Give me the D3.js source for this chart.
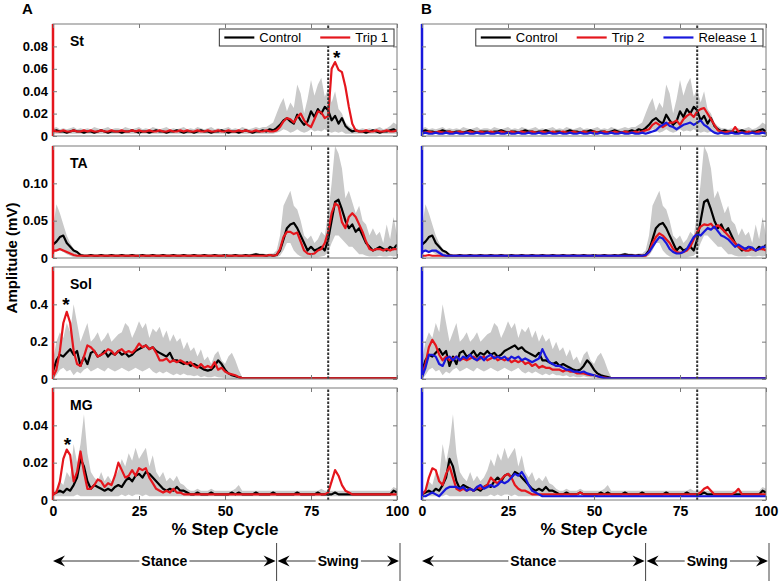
<!DOCTYPE html>
<html><head><meta charset="utf-8">
<script src="https://cdn.jsdelivr.net/npm/d3@7"></script>
<style>body{margin:0;background:#fff}svg{display:block}</style>
</head><body><svg id="c" width="779" height="581"></svg>
<script>
// ---------- DATA (percent step cycle 0..100, 1% steps) ----------
const pct = d3.range(0, 101);
const muscles = ["St", "TA", "Sol", "MG"];
const xTicks = [0, 25, 50, 75, 100];
const yTicksSt = [0, 0.02, 0.04, 0.06, 0.08];
const yTicksTA = [0, 0.05, 0.10];
const yTicksSol = [0, 0.2, 0.4];
const yTicksMG = [0, 0.02, 0.04];
const yMaxes = [0.1, 0.15, 0.6, 0.06];
const seriesNamesA = ["Control", "Trip 1"];
const seriesNamesB = ["Control", "Trip 2", "Release 1"];

// St
const stControl = [
.004,.005,.004,.004,.003,.004,.005,.004,.004,.003,
.004,.004,.003,.004,.005,.004,.003,.004,.004,.004,
.003,.004,.004,.005,.004,.003,.004,.004,.003,.004,
.005,.004,.004,.003,.004,.004,.005,.004,.003,.004,
.004,.003,.004,.005,.004,.004,.003,.004,.004,.005,
.004,.003,.004,.004,.003,.004,.005,.004,.003,.004,
.004,.005,.004,.006,.005,.007,.010,.014,.016,.013,
.011,.019,.014,.010,.013,.022,.017,.024,.020,.026,
.023,.014,.018,.011,.016,.009,.006,.004,.005,.004,
.004,.003,.004,.005,.004,.003,.004,.004,.005,.006,
.004];
const stTrip1 = [
.005,.004,.004,.005,.004,.004,.005,.004,.004,.005,
.004,.005,.004,.004,.005,.004,.004,.005,.004,.004,
.005,.004,.004,.005,.004,.005,.004,.004,.005,.004,
.004,.005,.004,.004,.005,.004,.004,.005,.004,.005,
.004,.004,.005,.004,.004,.005,.004,.004,.005,.004,
.004,.005,.004,.004,.005,.004,.005,.004,.004,.005,
.004,.004,.005,.004,.004,.005,.008,.013,.016,.015,
.012,.017,.020,.014,.010,.008,.015,.022,.021,.016,
.018,.060,.066,.059,.057,.044,.026,.011,.005,.004,
.004,.005,.004,.004,.005,.004,.004,.005,.004,.004,
.005];
const stTrip2 = [
.003,.003,.004,.003,.003,.004,.003,.003,.004,.003,
.003,.004,.003,.003,.004,.003,.003,.004,.003,.003,
.004,.003,.003,.004,.003,.003,.004,.003,.003,.004,
.003,.003,.004,.003,.003,.004,.003,.003,.004,.003,
.003,.004,.003,.003,.004,.003,.003,.004,.003,.003,
.004,.003,.003,.004,.003,.003,.004,.003,.003,.004,
.003,.003,.004,.003,.004,.005,.006,.010,.012,.010,
.008,.010,.012,.012,.014,.010,.015,.018,.020,.017,
.022,.024,.025,.020,.015,.010,.005,.004,.003,.004,
.003,.008,.004,.003,.003,.004,.003,.003,.004,.003,
.003];
const stRelease1 = [
.002,.003,.002,.002,.003,.002,.002,.003,.002,.002,
.003,.002,.002,.003,.002,.002,.003,.002,.002,.003,
.002,.002,.003,.002,.002,.003,.002,.002,.003,.002,
.002,.003,.002,.002,.003,.002,.002,.003,.002,.002,
.003,.002,.002,.003,.002,.002,.003,.002,.002,.003,
.002,.002,.003,.002,.002,.003,.002,.002,.003,.002,
.002,.003,.002,.002,.003,.002,.003,.004,.005,.008,
.010,.012,.009,.008,.006,.008,.010,.011,.012,.010,
.012,.014,.010,.008,.005,.003,.002,.003,.002,.002,
.003,.002,.002,.003,.002,.002,.003,.002,.002,.003,
.002];
const stBandHi = [
.007,.008,.006,.007,.006,.007,.008,.006,.007,.006,
.007,.006,.008,.007,.006,.007,.008,.006,.007,.007,
.006,.008,.007,.006,.007,.008,.006,.007,.006,.008,
.007,.006,.007,.008,.006,.007,.006,.007,.008,.006,
.007,.006,.008,.007,.006,.007,.008,.006,.007,.006,
.007,.008,.006,.007,.006,.008,.007,.006,.007,.008,
.007,.008,.008,.010,.012,.020,.028,.034,.022,.030,
.025,.046,.038,.020,.033,.050,.036,.046,.052,.035,
.042,.030,.040,.024,.020,.012,.009,.007,.007,.006,
.007,.006,.007,.006,.007,.008,.006,.007,.009,.012,
.010];
const stBandLo = [
.002,.002,.002,.002,.002,.002,.002,.002,.002,.002,
.002,.002,.002,.002,.002,.002,.002,.002,.002,.002,
.002,.002,.002,.002,.002,.002,.002,.002,.002,.002,
.002,.002,.002,.002,.002,.002,.002,.002,.002,.002,
.002,.002,.002,.002,.002,.002,.002,.002,.002,.002,
.002,.002,.002,.002,.002,.002,.002,.002,.002,.002,
.002,.002,.002,.002,.002,.003,.004,.006,.005,.003,
.004,.006,.004,.003,.004,.006,.004,.005,.004,.006,
.004,.003,.004,.003,.004,.002,.002,.002,.002,.002,
.002,.002,.002,.002,.002,.002,.002,.002,.002,.002,
.002];

// TA
const taControl = [
.018,.022,.028,.030,.020,.015,.010,.008,.004,.003,
.003,.004,.003,.003,.004,.003,.003,.004,.003,.003,
.004,.003,.003,.004,.003,.003,.004,.003,.003,.004,
.003,.003,.004,.003,.003,.004,.003,.003,.004,.003,
.003,.004,.003,.003,.004,.003,.003,.004,.003,.003,
.004,.003,.003,.004,.003,.003,.004,.003,.004,.005,
.004,.004,.003,.004,.003,.004,.010,.025,.040,.045,
.047,.040,.030,.020,.010,.015,.010,.012,.015,.010,
.025,.050,.075,.078,.065,.050,.040,.045,.035,.040,
.030,.020,.015,.010,.012,.015,.012,.010,.015,.012,
.018];
const taTrip1 = [
.010,.010,.012,.010,.008,.006,.004,.003,.003,.003,
.003,.003,.003,.003,.003,.003,.003,.003,.003,.003,
.003,.003,.003,.003,.003,.003,.003,.003,.003,.003,
.003,.003,.003,.003,.003,.003,.003,.003,.003,.003,
.003,.003,.003,.003,.003,.003,.003,.003,.003,.003,
.003,.003,.003,.003,.003,.003,.003,.003,.003,.003,
.003,.003,.003,.004,.003,.004,.012,.028,.035,.035,
.032,.034,.022,.010,.006,.005,.006,.010,.012,.020,
.035,.060,.073,.070,.048,.040,.055,.060,.055,.045,
.035,.022,.012,.010,.012,.012,.010,.012,.010,.012,
.012];
const taTrip2 = [
.003,.003,.004,.003,.003,.003,.003,.003,.003,.003,
.003,.003,.003,.003,.003,.003,.003,.003,.003,.003,
.003,.003,.003,.003,.003,.003,.003,.003,.003,.003,
.003,.003,.003,.003,.003,.003,.003,.003,.003,.003,
.003,.003,.003,.003,.003,.003,.003,.003,.003,.003,
.003,.003,.003,.003,.003,.003,.003,.003,.003,.003,
.003,.003,.003,.003,.003,.003,.008,.020,.028,.033,
.030,.025,.020,.012,.008,.007,.008,.010,.015,.025,
.035,.042,.045,.044,.046,.040,.044,.040,.035,.030,
.025,.020,.015,.012,.010,.010,.012,.010,.012,.012,
.010];
const taRelease1 = [
.008,.010,.008,.010,.010,.007,.004,.003,.003,.003,
.003,.003,.003,.003,.003,.003,.003,.003,.003,.003,
.003,.003,.003,.003,.003,.003,.003,.003,.003,.003,
.003,.003,.003,.003,.003,.003,.003,.003,.003,.003,
.003,.003,.003,.003,.003,.003,.003,.003,.003,.003,
.003,.003,.003,.003,.003,.003,.003,.003,.003,.003,
.003,.003,.003,.003,.003,.004,.008,.015,.022,.028,
.026,.020,.012,.008,.006,.006,.008,.012,.020,.028,
.032,.030,.035,.040,.038,.042,.036,.030,.028,.025,
.020,.015,.018,.015,.012,.015,.014,.010,.012,.015,
.015];
const taBandHi = [
.040,.072,.060,.045,.030,.020,.012,.008,.006,.005,
.005,.005,.005,.005,.005,.005,.005,.005,.005,.005,
.005,.005,.005,.005,.005,.005,.005,.005,.005,.005,
.005,.005,.005,.005,.005,.005,.005,.005,.005,.005,
.005,.005,.005,.005,.005,.005,.005,.005,.005,.005,
.005,.005,.005,.005,.005,.005,.005,.005,.006,.007,
.006,.006,.005,.006,.006,.010,.030,.070,.080,.090,
.070,.065,.050,.030,.025,.030,.020,.025,.035,.030,
.060,.100,.150,.140,.120,.080,.090,.075,.060,.070,
.050,.045,.030,.040,.030,.035,.020,.045,.025,.055,
.030];
const taBandLo = [
.005,.010,.010,.008,.005,.003,.001,.001,.001,.001,
.001,.001,.001,.001,.001,.001,.001,.001,.001,.001,
.001,.001,.001,.001,.001,.001,.001,.001,.001,.001,
.001,.001,.001,.001,.001,.001,.001,.001,.001,.001,
.001,.001,.001,.001,.001,.001,.001,.001,.001,.001,
.001,.001,.001,.001,.001,.001,.001,.001,.001,.001,
.001,.001,.001,.001,.001,.001,.003,.010,.020,.020,
.010,.005,.002,.001,.001,.001,.001,.001,.002,.003,
.008,.020,.030,.030,.025,.020,.015,.015,.010,.005,
.005,.003,.002,.002,.002,.003,.002,.002,.003,.002,
.003];

// Sol
const solControl = [
.040,.100,.130,.120,.140,.160,.130,.150,.070,.120,
.080,.140,.150,.120,.130,.150,.120,.140,.130,.150,
.130,.140,.120,.130,.150,.160,.170,.180,.160,.170,
.150,.140,.130,.120,.140,.100,.100,.090,.080,.090,
.070,.080,.070,.060,.050,.045,.050,.070,.100,.080,
.050,.030,.020,.015,.010,.005,.004,.003,.003,.003,
.003,.003,.003,.003,.003,.003,.003,.003,.003,.003,
.003,.003,.003,.003,.003,.003,.003,.003,.003,.003,
.003,.003,.003,.003,.003,.003,.003,.003,.003,.003,
.003,.003,.003,.003,.003,.003,.003,.003,.003,.003,
.003];
const solTrip1 = [
.010,.050,.150,.300,.360,.300,.150,.080,.070,.120,
.180,.170,.150,.120,.130,.140,.160,.150,.130,.150,
.160,.140,.150,.140,.160,.190,.170,.180,.160,.170,
.140,.100,.100,.110,.090,.100,.090,.100,.090,.080,
.090,.070,.060,.080,.060,.070,.060,.090,.050,.060,
.040,.030,.025,.020,.010,.005,.003,.003,.003,.003,
.003,.003,.003,.003,.003,.003,.003,.003,.003,.003,
.003,.003,.003,.003,.003,.003,.003,.003,.003,.003,
.003,.003,.003,.003,.003,.003,.003,.003,.003,.003,
.003,.003,.003,.003,.003,.003,.003,.003,.003,.003,
.003];
const solTrip2 = [
.020,.080,.170,.210,.180,.130,.100,.120,.100,.110,
.120,.100,.110,.100,.110,.120,.100,.110,.120,.100,
.110,.120,.100,.110,.100,.110,.090,.100,.090,.100,
.080,.090,.070,.080,.060,.070,.060,.060,.050,.050,
.050,.040,.050,.040,.040,.030,.030,.030,.025,.020,
.020,.015,.010,.008,.005,.003,.003,.003,.003,.003,
.003,.003,.003,.003,.003,.003,.003,.003,.003,.003,
.003,.003,.003,.003,.003,.003,.003,.003,.003,.003,
.003,.003,.003,.003,.003,.003,.003,.003,.003,.003,
.003,.003,.003,.003,.003,.003,.003,.003,.003,.003,
.003];
const solRelease1 = [
.010,.060,.130,.130,.120,.080,.070,.110,.120,.100,
.120,.100,.120,.110,.130,.110,.100,.120,.100,.120,
.130,.110,.120,.110,.120,.100,.120,.110,.120,.100,
.110,.100,.090,.100,.110,.160,.120,.090,.080,.070,
.070,.060,.050,.050,.040,.040,.035,.040,.030,.025,
.020,.015,.010,.005,.003,.003,.003,.003,.003,.003,
.003,.003,.003,.003,.003,.003,.003,.003,.003,.003,
.003,.003,.003,.003,.003,.003,.003,.003,.003,.003,
.003,.003,.003,.003,.003,.003,.003,.003,.003,.003,
.003,.003,.003,.003,.003,.003,.003,.003,.003,.003,
.003];
const solBandHi = [
.100,.200,.250,.220,.300,.250,.400,.300,.200,.250,
.300,.200,.220,.250,.200,.220,.250,.200,.220,.240,
.250,.300,.280,.220,.260,.310,.270,.300,.220,.270,
.250,.280,.220,.260,.200,.240,.200,.220,.160,.200,
.150,.170,.120,.160,.100,.120,.080,.130,.150,.100,
.080,.120,.140,.100,.050,.010,.006,.006,.006,.006,
.006,.006,.006,.006,.006,.006,.006,.006,.006,.006,
.006,.006,.006,.006,.006,.006,.006,.006,.006,.006,
.006,.006,.006,.006,.006,.006,.006,.006,.006,.006,
.006,.006,.006,.006,.006,.006,.006,.006,.006,.006,
.006];
const solBandLo = [
.000,.020,.050,.060,.040,.050,.020,.040,.030,.050,
.060,.040,.050,.060,.050,.040,.060,.050,.040,.050,
.060,.050,.040,.050,.060,.050,.040,.050,.060,.040,
.030,.040,.030,.040,.030,.020,.030,.020,.030,.020,
.020,.015,.020,.010,.015,.010,.010,.015,.010,.008,
.005,.003,.002,.001,.001,.001,.001,.001,.001,.001,
.001,.001,.001,.001,.001,.001,.001,.001,.001,.001,
.001,.001,.001,.001,.001,.001,.001,.001,.001,.001,
.001,.001,.001,.001,.001,.001,.001,.001,.001,.001,
.001,.001,.001,.001,.001,.001,.001,.001,.001,.001,
.001];

// MG
const mgControl = [
.003,.004,.005,.004,.006,.005,.008,.012,.022,.018,
.010,.006,.008,.007,.006,.005,.006,.005,.007,.008,
.007,.010,.012,.010,.013,.014,.012,.015,.014,.012,
.010,.008,.006,.005,.006,.005,.007,.005,.005,.004,
.003,.003,.004,.003,.003,.003,.004,.003,.003,.003,
.003,.003,.004,.003,.004,.003,.003,.003,.003,.004,
.003,.003,.003,.003,.004,.003,.003,.003,.003,.003,
.003,.004,.003,.003,.003,.003,.003,.004,.003,.003,
.003,.003,.004,.003,.003,.003,.003,.003,.003,.003,
.003,.003,.003,.003,.003,.003,.003,.003,.003,.005,
.004];
const mgTrip1 = [
.003,.004,.010,.022,.027,.024,.010,.015,.026,.015,
.006,.006,.008,.011,.010,.007,.009,.008,.013,.020,
.016,.012,.013,.016,.013,.017,.016,.017,.012,.009,
.006,.005,.004,.005,.004,.006,.004,.004,.003,.003,
.003,.003,.003,.003,.003,.003,.003,.003,.003,.003,
.003,.003,.003,.003,.003,.003,.003,.003,.003,.003,
.003,.003,.003,.003,.003,.003,.003,.003,.003,.003,
.003,.003,.003,.003,.003,.003,.003,.003,.003,.003,
.004,.010,.016,.013,.008,.005,.004,.003,.003,.003,
.003,.003,.003,.003,.003,.003,.003,.003,.003,.003,
.003];
const mgTrip2 = [
.003,.005,.012,.017,.016,.010,.008,.014,.018,.012,
.006,.005,.006,.005,.006,.005,.007,.006,.007,.008,
.012,.010,.009,.011,.013,.014,.012,.008,.006,.005,
.005,.004,.003,.003,.003,.003,.003,.003,.003,.003,
.003,.003,.003,.003,.003,.003,.004,.003,.003,.003,
.003,.003,.003,.003,.003,.003,.003,.003,.003,.003,
.003,.003,.003,.003,.003,.003,.003,.003,.003,.003,
.003,.003,.003,.003,.003,.003,.003,.003,.003,.003,
.003,.004,.006,.007,.005,.003,.003,.003,.003,.003,
.003,.004,.006,.003,.003,.003,.003,.003,.003,.003,
.003];
const mgRelease1 = [
.002,.002,.003,.004,.003,.002,.004,.006,.007,.007,
.007,.006,.007,.005,.006,.005,.007,.008,.006,.007,
.008,.007,.008,.010,.009,.010,.012,.014,.013,.015,
.012,.008,.005,.004,.003,.002,.002,.002,.002,.002,
.002,.002,.002,.002,.002,.002,.002,.002,.002,.002,
.002,.002,.002,.002,.002,.002,.002,.002,.002,.002,
.002,.002,.002,.002,.002,.002,.002,.002,.002,.002,
.002,.002,.002,.002,.002,.002,.002,.002,.002,.002,
.002,.002,.002,.002,.002,.002,.002,.002,.002,.002,
.002,.002,.002,.002,.002,.002,.002,.002,.002,.002,
.002];
const mgBandHi = [
.004,.006,.010,.008,.015,.012,.030,.020,.030,.046,
.025,.015,.012,.010,.015,.010,.013,.010,.012,.016,
.022,.018,.025,.021,.028,.022,.025,.028,.018,.024,
.015,.012,.015,.010,.012,.010,.013,.009,.008,.006,
.005,.005,.006,.005,.005,.005,.006,.005,.005,.005,
.005,.005,.005,.006,.008,.005,.005,.005,.005,.005,
.005,.005,.005,.005,.005,.005,.005,.005,.005,.005,
.005,.005,.005,.005,.005,.005,.005,.005,.006,.005,
.005,.005,.005,.005,.005,.005,.005,.005,.005,.005,
.005,.005,.005,.005,.005,.005,.005,.005,.005,.007,
.006];
const mgBandLo = [
.002,.002,.002,.002,.002,.002,.002,.003,.002,.002,
.002,.002,.002,.002,.002,.002,.002,.002,.002,.002,
.003,.002,.003,.002,.003,.003,.002,.003,.002,.002,
.002,.002,.002,.002,.002,.002,.002,.002,.002,.002,
.002,.002,.002,.002,.002,.002,.002,.002,.002,.002,
.002,.002,.002,.002,.002,.002,.002,.002,.002,.002,
.002,.002,.002,.002,.002,.002,.002,.002,.002,.002,
.002,.002,.002,.002,.002,.002,.002,.002,.002,.002,
.002,.002,.002,.002,.002,.002,.002,.002,.002,.002,
.002,.002,.002,.002,.002,.002,.002,.002,.002,.002,
.002];

// significance markers in panel A: [pct, value] for rows St, Sol, MG
const stars = [[82.5, 0.074], [3.8, 0.423], [4.2, 0.032]];
const starRows = [0, 2, 3];

// ---------- LAYOUT ----------
const svg = d3.select("#c");
const FONT = "'Liberation Sans', Arial, sans-serif";
const NARROW = "'Liberation Sans Narrow', 'Arial Narrow', 'Liberation Sans', sans-serif";
const RED = "#e5161d", BLUE = "#1818dc", BLACK = "#000", GRAY = "#c9c9c9";
const colRange = [[53, 397], [422, 766]];
const rowTop = [24, 146, 267, 388], rowH = 112;
const yTicksAll = [yTicksSt, yTicksTA, yTicksSol, yTicksMG];
const yFmt = [d3.format(".2f"), d3.format(".2f"), d3.format(".1f"), d3.format(".2f")];

const bandHi = [stBandHi, taBandHi, solBandHi, mgBandHi];
const bandLo = [stBandLo, taBandLo, solBandLo, mgBandLo];
const colsSeries = [
  [ {name: seriesNamesA[0], color: BLACK, data: [stControl, taControl, solControl, mgControl]},
    {name: seriesNamesA[1], color: RED, data: [stTrip1, taTrip1, solTrip1, mgTrip1]} ],
  [ {name: seriesNamesB[0], color: BLACK, data: [stControl, taControl, solControl, mgControl]},
    {name: seriesNamesB[1], color: RED, data: [stTrip2, taTrip2, solTrip2, mgTrip2]},
    {name: seriesNamesB[2], color: BLUE, data: [stRelease1, taRelease1, solRelease1, mgRelease1]} ]
];

const defs = svg.append("defs");

colRange.forEach((cr, c) => {
  const x = d3.scaleLinear().domain([0, 100]).range(cr);
  muscles.forEach((m, r) => {
    const y = d3.scaleLinear().domain([0, yMaxes[r]]).range([rowTop[r] + rowH, rowTop[r]]);
    const cid = `clip${c}${r}`;
    defs.append("clipPath").attr("id", cid).append("rect")
      .attr("x", cr[0]).attr("y", rowTop[r]).attr("width", cr[1] - cr[0]).attr("height", rowH);
    const g = svg.append("g");
    const plot = g.append("g").attr("clip-path", `url(#${cid})`);
    const area = d3.area().x((d, i) => x(pct[i])).y0((d, i) => y(bandLo[r][i])).y1(d => y(d));
    plot.append("path").datum(bandHi[r]).attr("d", area).attr("fill", GRAY);
    colsSeries[c].forEach(s => {
      const line = d3.line().x((d, i) => x(pct[i])).y(d => y(d));
      plot.append("path").datum(s.data[r]).attr("d", line)
        .attr("fill", "none").attr("stroke", s.color).attr("stroke-width", 2.2)
        .attr("stroke-linejoin", "round");
    });
    g.append("line").attr("x1", x(80)).attr("x2", x(80)).attr("y1", y(0)).attr("y2", y(yMaxes[r]))
      .attr("stroke", "#333").attr("stroke-width", 2).attr("stroke-dasharray", "2.5,1.5");
    g.append("rect").attr("x", cr[0]).attr("y", rowTop[r]).attr("width", cr[1] - cr[0]).attr("height", rowH)
      .attr("fill", "none").attr("stroke", "#7a7a7a").attr("stroke-width", 1);
    const last = colsSeries[c][colsSeries[c].length - 1];
    g.append("line").attr("x1", x(0)).attr("x2", x(0)).attr("y1", y(0)).attr("y2", y(yMaxes[r]))
      .attr("stroke", last.color).attr("stroke-width", 2.5);
    const bottom = g.append("g").attr("transform", `translate(0,${y(0)})`)
      .call(d3.axisBottom(x).tickValues(xTicks).tickSize(-4).tickSizeOuter(0).tickPadding(6)
        .tickFormat(r === 3 ? d3.format("d") : () => ""));
    const top = g.append("g").attr("transform", `translate(0,${rowTop[r]})`)
      .call(d3.axisTop(x).tickValues(xTicks).tickSize(-4).tickSizeOuter(0).tickFormat(() => ""));
    const left = g.append("g").attr("transform", `translate(${cr[0]},0)`)
      .call(d3.axisLeft(y).tickValues(yTicksAll[r]).tickSize(-4).tickSizeOuter(0).tickPadding(5)
        .tickFormat(c === 0 ? (d => d === 0 ? "0" : yFmt[r](d)) : () => ""));
    const right = g.append("g").attr("transform", `translate(${cr[1]},0)`)
      .call(d3.axisRight(y).tickValues(yTicksAll[r]).tickSize(-4).tickSizeOuter(0).tickFormat(() => ""));
    [bottom, top, left, right].forEach(a => {
      a.select(".domain").remove();
      a.selectAll(".tick line").attr("stroke", "#7a7a7a");
    });
    bottom.selectAll("text").attr("font-family", NARROW).attr("font-weight", "bold")
      .attr("font-size", 14).attr("fill", "#000");
    left.selectAll("text").attr("font-family", FONT).attr("font-weight", "bold")
      .attr("font-size", 13).attr("fill", "#000");
    if (c === 0) {
      g.append("text").attr("x", 70).attr("y", rowTop[r] + 22).text(m)
        .attr("font-family", FONT).attr("font-weight", "bold").attr("font-size", 14);
      const si = starRows.indexOf(r);
      if (si >= 0) {
        g.append("text").attr("x", x(stars[si][0])).attr("y", y(stars[si][1]) + 11)
          .attr("text-anchor", "middle").text("*")
          .attr("font-family", FONT).attr("font-weight", "bold").attr("font-size", 19);
      }
    }
    if (r === 0) {
      const items = colsSeries[c];
      const lg = g.append("g");
      const box = lg.append("rect").attr("y", 29).attr("height", 17)
        .attr("fill", "#fff").attr("stroke", "#333").attr("stroke-width", 1);
      let cx = 0;
      const ig = lg.append("g");
      items.forEach((s) => {
        ig.append("line").attr("x1", cx + 5).attr("x2", cx + 35).attr("y1", 37.5).attr("y2", 37.5)
          .attr("stroke", s.color).attr("stroke-width", 2.2);
        const t = ig.append("text").attr("x", cx + 40).attr("y", 42).text(s.name)
          .attr("font-family", FONT).attr("font-size", 13);
        cx += 40 + t.node().getComputedTextLength() + 14;
      });
      const wBox = cx - 8;
      const bx = cr[1] - 3 - wBox;
      ig.attr("transform", `translate(${bx},0)`);
      box.attr("x", bx).attr("width", wBox);
      lg.lower(); lg.raise();
    }
  });

  svg.append("text").attr("x", (cr[0] + cr[1]) / 2).attr("y", 535).attr("text-anchor", "middle")
    .text("% Step Cycle").attr("font-family", NARROW).attr("font-weight", "bold").attr("font-size", 17);

  const ay = 561;
  const sepX = [x(65), x(100) + 3];
  sepX.forEach(sx => svg.append("line").attr("x1", sx).attr("x2", sx).attr("y1", 543).attr("y2", 581)
    .attr("stroke", "#444").attr("stroke-width", 1));
  const phases = [["Stance", x(0), x(65) - 1], ["Swing", x(65) + 1, x(100) + 2]];
  phases.forEach(([lab, a, b]) => {
    svg.append("line").attr("x1", a + 4).attr("x2", b - 4).attr("y1", ay).attr("y2", ay)
      .attr("stroke", "#333").attr("stroke-width", 1);
    const head = (tx, dir) => `M${tx},${ay} L${tx - dir * 12},${ay - 5.5} L${tx - dir * 8},${ay} L${tx - dir * 12},${ay + 5.5} Z`;
    svg.append("path").attr("d", head(b, 1)).attr("fill", "#000");
    svg.append("path").attr("d", head(a, -1)).attr("fill", "#000");
    const t = svg.append("text").attr("x", (a + b) / 2).attr("y", ay + 5).attr("text-anchor", "middle")
      .text(lab).attr("font-family", NARROW).attr("font-weight", "bold").attr("font-size", 14);
    const bb = t.node().getBBox();
    svg.insert("rect", () => t.node()).attr("x", bb.x - 2).attr("y", bb.y).attr("width", bb.width + 4)
      .attr("height", bb.height).attr("fill", "#fff");
  });
});

svg.append("text").attr("x", 22).attr("y", 14).text("A")
  .attr("font-family", FONT).attr("font-weight", "bold").attr("font-size", 15);
svg.append("text").attr("x", 421).attr("y", 14).text("B")
  .attr("font-family", FONT).attr("font-weight", "bold").attr("font-size", 15);
svg.append("text").attr("transform", "translate(17,258) rotate(-90)").attr("text-anchor", "middle")
  .text("Amplitude (mV)").attr("font-family", FONT).attr("font-weight", "bold").attr("font-size", 15);
</script></body></html>
